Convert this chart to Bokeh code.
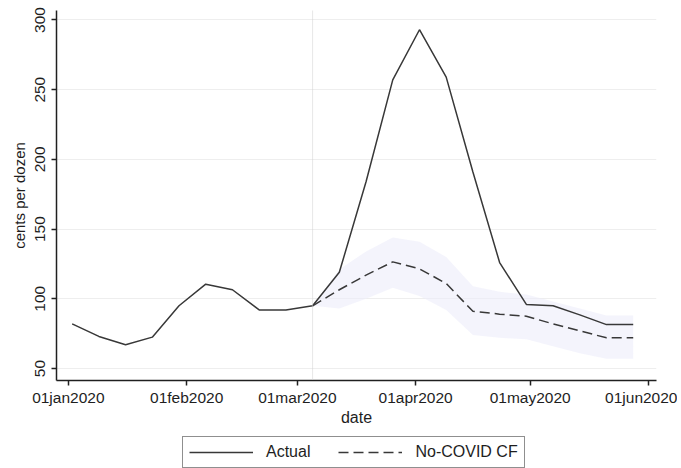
import pandas as pd
from bokeh.plotting import figure
from bokeh.layouts import column
from bokeh.models import (ColumnDataSource, FixedTicker, Legend, LegendItem,
                          Span, Range1d)
from bokeh.embed import file_html
from bokeh.resources import INLINE

# ---- data (weekly) ----
dates = ["2020-01-02", "2020-01-09", "2020-01-16", "2020-01-23", "2020-01-30",
         "2020-02-06", "2020-02-13", "2020-02-20", "2020-02-27", "2020-03-05",
         "2020-03-12", "2020-03-19", "2020-03-26", "2020-04-02", "2020-04-09",
         "2020-04-16", "2020-04-23", "2020-04-30", "2020-05-07", "2020-05-14",
         "2020-05-21", "2020-05-28"]
actual = [82, 73, 67, 72.5, 95, 110.5, 106.5, 92, 92, 95,
          119, 184, 257, 293, 259, 191, 126, 96, 95, 88.5, 81.5, 81.5]

cf_dates = dates[9:]
cf = [95, 106.5, 117, 126.5, 121.5, 111, 91, 89, 87.5, 82, 77, 72, 72]
cf_upper = [95, 121, 134, 144, 141, 130, 109, 105, 103, 98, 93, 88, 88]
cf_lower = [95, 93, 100, 108, 102, 92, 74, 72, 71, 66, 61, 57, 57]

xtick_dates = ["2020-01-01", "2020-02-01", "2020-03-01", "2020-04-01",
               "2020-05-01", "2020-06-01"]
xtick_labels = ["01jan2020", "01feb2020", "01mar2020", "01apr2020",
                "01may2020", "01jun2020"]
yticks = [50, 100, 150, 200, 250, 300]
event_date = "2020-03-05"
legend_labels = ["Actual", "No-COVID CF"]


def to_ms(d):
    return int((pd.Timestamp(d) - pd.Timestamp("1970-01-01")) // pd.Timedelta("1ms"))


src_a = ColumnDataSource(dict(x=[pd.Timestamp(d) for d in dates], y=actual))
src_c = ColumnDataSource(dict(x=[pd.Timestamp(d) for d in cf_dates], y=cf,
                              lo=cf_lower, hi=cf_upper))

FONT = "Liberation Sans"
TXT = "#1e1e1e"
LINE = "#383838"
DASH = "10 5"

p = figure(x_axis_type="datetime", frame_width=600, frame_height=370,
           output_backend="svg", toolbar_location=None,
           min_border_left=56, min_border_right=21, min_border_top=10,
           min_border_bottom=0,
           x_range=Range1d(to_ms("2020-01-01") - 3.1 * 86400000,
                           to_ms("2020-01-01") + 154.1 * 86400000),
           y_range=Range1d(41.4, 306.8))
p.outline_line_color = None
p.background_fill_color = "white"
p.border_fill_color = "white"

# grid
p.xgrid.visible = False
p.ygrid.ticker = FixedTicker(ticks=yticks)
p.ygrid.grid_line_color = "#eeeeee"
p.ygrid.grid_line_width = 1

# band
p.varea(x="x", y1="lo", y2="hi", source=src_c, fill_color="#ededfa",
        fill_alpha=0.6)

# vertical event line
p.add_layout(Span(location=to_ms(event_date), dimension="height",
                  line_color="#cfcfcf", line_width=1, line_dash="1 1"))

r_a = p.line("x", "y", source=src_a, line_color=LINE, line_width=1.5)
r_c = p.line("x", "y", source=src_c, line_color=LINE, line_width=1.5,
             line_dash=DASH)

# axes
xt = [to_ms(d) for d in xtick_dates]
p.xaxis.ticker = FixedTicker(ticks=xt)
p.xaxis.major_label_overrides = {t: l for t, l in zip(xt, xtick_labels)}
p.yaxis.ticker = FixedTicker(ticks=yticks)
p.yaxis.major_label_orientation = "vertical"
p.xaxis.axis_label = "date"
p.yaxis.axis_label = "cents per dozen"
for ax in (p.xaxis, p.yaxis):
    ax.axis_line_color = "#202020"
    ax.axis_line_width = 1.5
    ax.major_tick_line_color = "#202020"
    ax.major_tick_line_width = 1.5
    ax.major_tick_in = 0
    ax.major_tick_out = 5
    ax.minor_tick_line_color = None
    ax.major_label_text_font = FONT
    ax.major_label_text_font_size = "15.5px"
    ax.major_label_text_color = TXT
    ax.axis_label_text_font = FONT
    ax.axis_label_text_font_style = "normal"
    ax.axis_label_text_color = TXT
p.xaxis.axis_label_text_font_size = "16px"
p.yaxis.axis_label_text_font_size = "15px"
p.xaxis.major_label_standoff = 3
p.xaxis.axis_label_standoff = 0
p.yaxis.major_label_standoff = 6
p.yaxis.axis_label_standoff = 5

# ---- legend strip below the plot (reuses the plot's line renderers'
#      data sources; its view ranges keep them out of sight) ----
lg = figure(width=677, height=44, output_backend="svg", toolbar_location=None,
            min_border_left=56, min_border_right=21, min_border_top=0,
            min_border_bottom=0, x_axis_type=None, y_axis_type=None,
            x_range=Range1d(0, 1), y_range=Range1d(0, 1))
lg.outline_line_color = None
lg.xgrid.visible = False
lg.ygrid.visible = False
lg.border_fill_color = "white"
lg.background_fill_color = "white"
l_a = lg.line("x", "y", source=src_a, line_color=LINE, line_width=1.5)
l_c = lg.line("x", "y", source=src_c, line_color=LINE, line_width=1.5,
              line_dash=DASH)

legend = Legend(items=[LegendItem(label=legend_labels[0], renderers=[l_a]),
                       LegendItem(label=legend_labels[1], renderers=[l_c])],
                orientation="horizontal", location=(126, 4))
legend.label_text_font = FONT
legend.label_text_font_size = "16px"
legend.label_text_color = TXT
legend.label_height = 18
legend.border_line_color = "#202020"
legend.border_line_width = 1.3
legend.glyph_width = 64
legend.glyph_height = 14
legend.label_standoff = 13
legend.spacing = 28
legend.padding = 6
legend.margin = 0
legend.background_fill_color = "white"
legend.background_fill_alpha = 1.0
lg.add_layout(legend, "center")

layout = column(p, lg, spacing=0)
open("out.html", "w").write(file_html(layout, INLINE))
